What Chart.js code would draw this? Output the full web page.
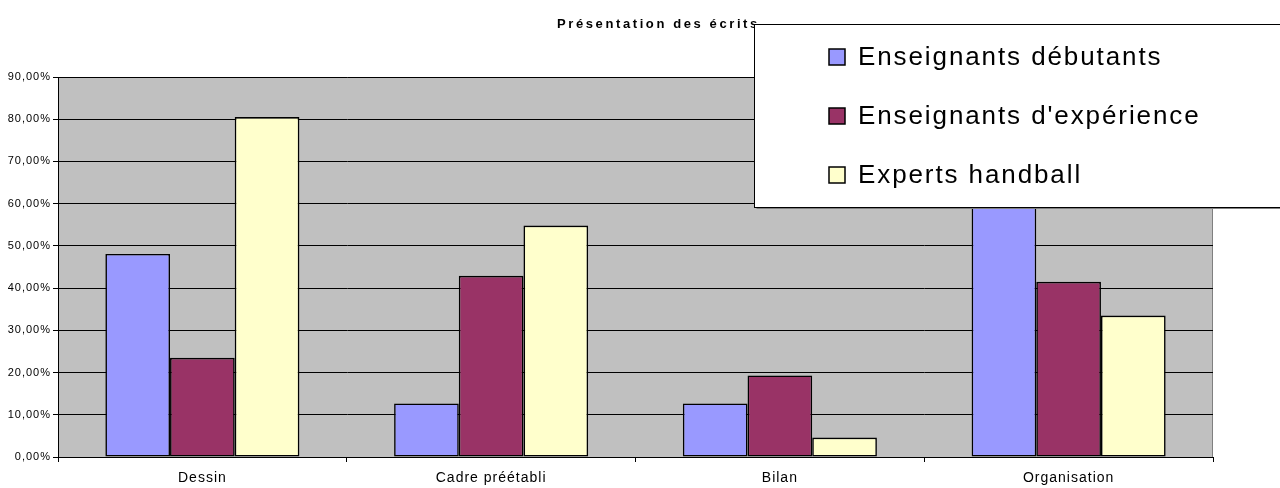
<!DOCTYPE html>
<html>
<head>
<meta charset="utf-8">
<script src="https://cdn.jsdelivr.net/npm/chart.js@4/dist/chart.umd.min.js"></script>
<style>
  html, body { margin: 0; padding: 0; background: #fff; }
  #wrap { width: 1280px; height: 488px; position: relative; }
</style>
</head>
<body>
<div id="wrap"><canvas id="c" width="1280" height="488"></canvas></div>
<script>
// Catégories et séries (valeurs en %)
const categories = ['Dessin', 'Cadre préétabli', 'Bilan', 'Organisation'];
const debutants  = [48.1, 12.7, 12.7, 66.0];
const experience = [23.5, 42.9, 19.3, 41.5];
const experts    = [80.5, 54.8, 4.6, 33.5];
const seriesNames = ['Enseignants débutants', "Enseignants d'expérience", 'Experts handball'];
const chartTitle = 'Présentation des écrits';

const FONT = '"Liberation Sans", Arial, sans-serif';

// Fond gris de la zone de tracé + espacement des lettres des étiquettes d'axes
const plotBackground = {
  id: 'plotBackground',
  beforeDraw(chart) {
    const { ctx, chartArea: a } = chart;
    ctx.save();
    ctx.fillStyle = '#C0C0C0';
    ctx.fillRect(a.left, a.top, a.right - a.left, a.bottom - a.top);
    ctx.strokeStyle = '#808080';
    ctx.lineWidth = 1;
    ctx.beginPath();
    ctx.moveTo(a.left, a.top + 0.5);
    ctx.lineTo(a.right - 0.5, a.top + 0.5);
    ctx.lineTo(a.right - 0.5, a.bottom);
    ctx.stroke();
    ctx.restore();
    ctx.letterSpacing = '1px';
  }
};

// Titre puis légende encadrée, dessinée par-dessus le graphique
const overlay = {
  id: 'overlay',
  afterDraw(chart) {
    const { ctx } = chart;
    ctx.save();
    ctx.fillStyle = '#000';
    ctx.font = 'bold 13px ' + FONT;
    ctx.letterSpacing = '2.6px';
    ctx.textAlign = 'left';
    ctx.textBaseline = 'middle';
    ctx.fillText(chartTitle, 557, 24);

    const box = { x: 754.5, y: 24.5, w: 540, h: 183 };
    ctx.fillStyle = '#808080';
    ctx.fillRect(box.x + 2, box.y + box.h, box.w, 1.5);
    ctx.fillStyle = '#fff';
    ctx.fillRect(box.x, box.y, box.w, box.h);
    ctx.strokeStyle = '#000';
    ctx.lineWidth = 1;
    ctx.strokeRect(box.x, box.y, box.w, box.h);

    ctx.font = '26px ' + FONT;
    ctx.letterSpacing = '1.9px';
    ctx.textBaseline = 'middle';
    chart.data.datasets.forEach((ds, i) => {
      const cy = 57 + i * 59;
      ctx.fillStyle = ds.backgroundColor;
      ctx.fillRect(829, cy - 8, 16, 16);
      ctx.strokeStyle = '#000';
      ctx.lineWidth = 1.5;
      ctx.strokeRect(829, cy - 8, 16, 16);
      ctx.fillStyle = '#000';
      ctx.fillText(ds.label, 858, cy + 1);
    });
    ctx.restore();
    ctx.letterSpacing = '0px';
  }
};

const barStyle = (color) => ({
  backgroundColor: color,
  borderColor: '#000',
  borderWidth: 1.6,
  borderSkipped: false
});

new Chart(document.getElementById('c'), {
  type: 'bar',
  data: {
    labels: categories,
    datasets: [
      { label: seriesNames[0], data: debutants,  ...barStyle('#9999FF') },
      { label: seriesNames[1], data: experience, ...barStyle('#993366') },
      { label: seriesNames[2], data: experts,    ...barStyle('#FFFFCC') }
    ]
  },
  options: {
    responsive: false,
    animation: false,
    devicePixelRatio: 1,
    layout: { padding: { left: 0, right: 67, top: 77, bottom: 0 } },
    datasets: {
      bar: { categoryPercentage: 0.672, barPercentage: 1.0 }
    },
    plugins: {
      legend: { display: false },
      title: { display: false },
      tooltip: { enabled: false }
    },
    scales: {
      x: {
        afterFit(scale) { scale.height = 31; },
        grid: {
          display: true,
          drawOnChartArea: false,
          drawTicks: true,
          tickLength: 5,
          color: '#000',
          offset: true
        },
        border: { color: '#000', width: 1 },
        ticks: { color: '#000', font: { family: FONT, size: 14 }, padding: 8 }
      },
      y: {
        min: 0,
        max: 90,
        afterFit(scale) { scale.width = 58; },
        grid: {
          color: '#000',
          lineWidth: 1,
          drawTicks: true,
          tickLength: 5,
          tickColor: '#000'
        },
        border: { color: '#000', width: 1 },
        ticks: {
          stepSize: 10,
          color: '#000',
          font: { family: FONT, size: 11 },
          padding: 2,
          callback: (v) => v.toFixed(2).replace('.', ',') + '%'
        }
      }
    }
  },
  plugins: [plotBackground, overlay]
});
</script>
</body>
</html>
